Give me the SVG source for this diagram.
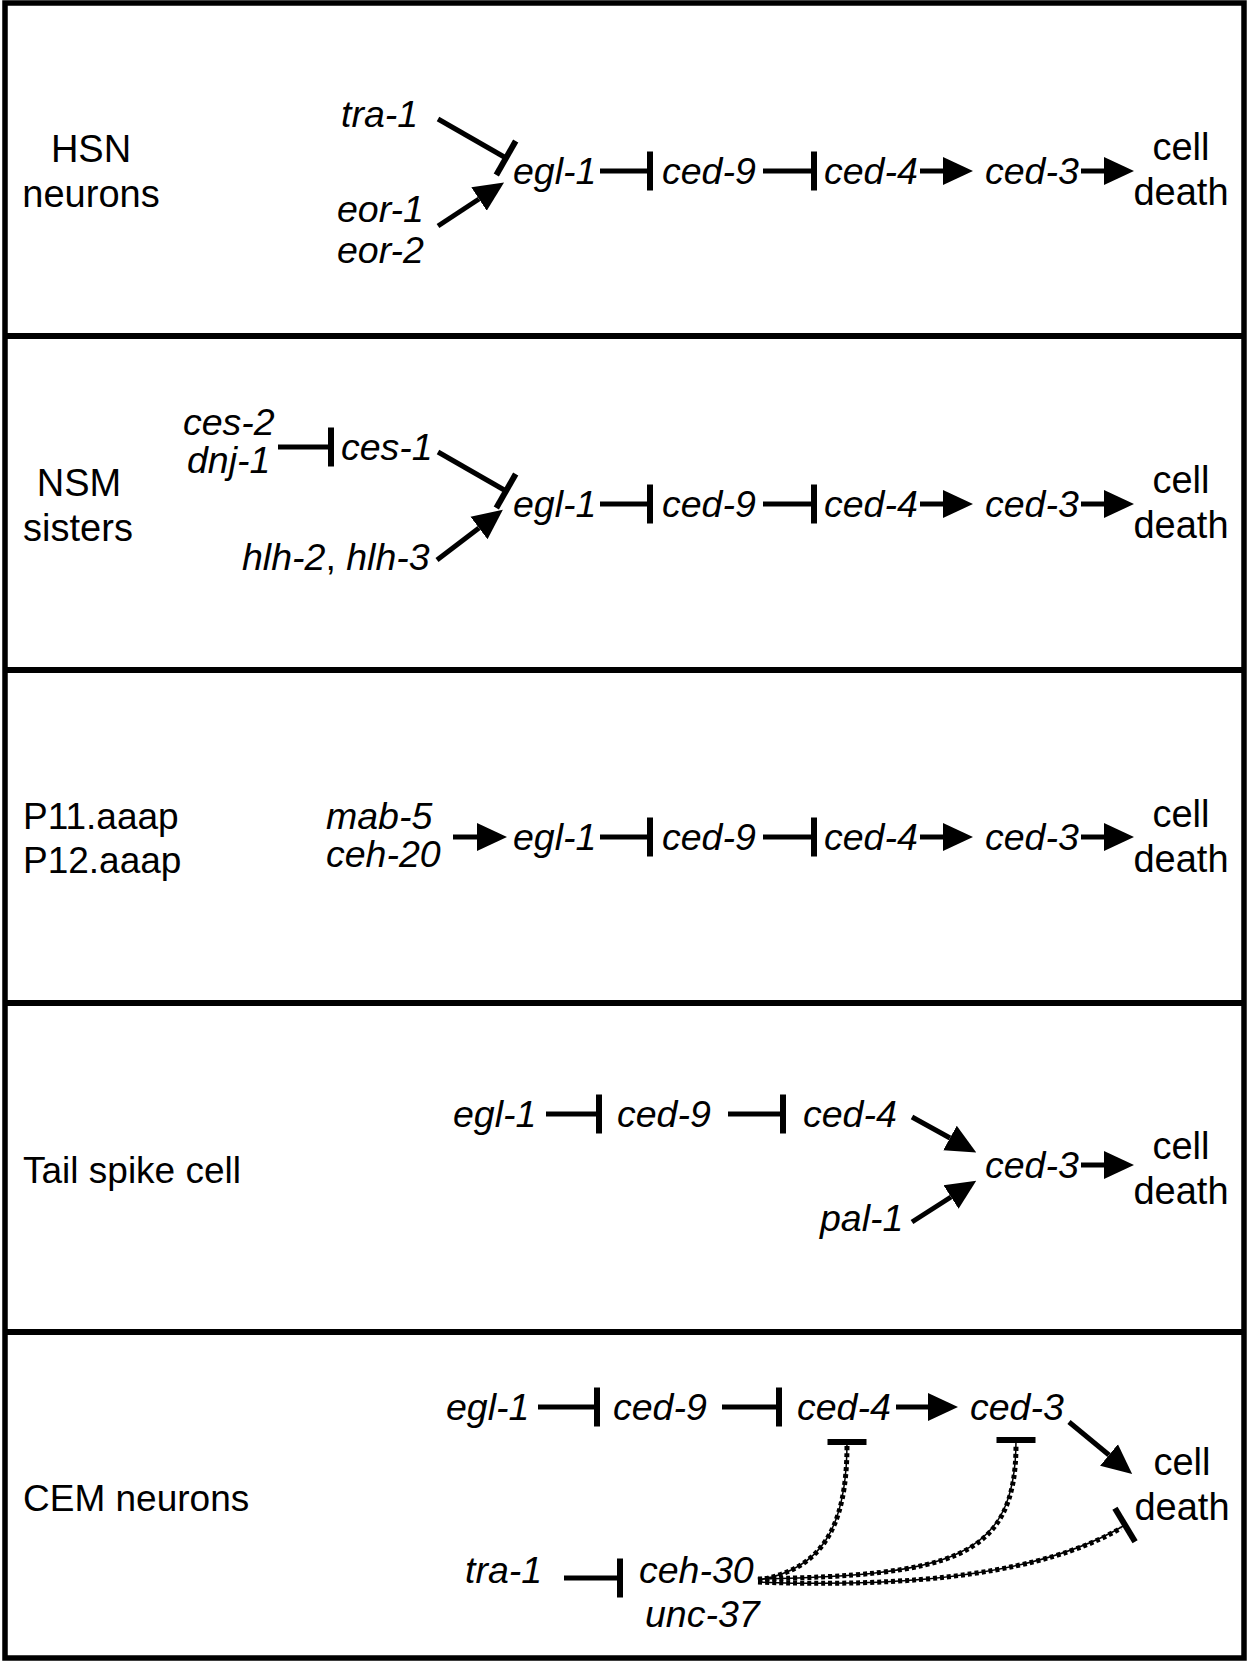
<svg xmlns="http://www.w3.org/2000/svg" width="1249" height="1663" viewBox="0 0 1249 1663">
<style>
text{font-family:"Liberation Sans",Arial,sans-serif;font-size:37px;fill:#000}
.g{font-style:italic;font-size:37.5px}
.m{text-anchor:middle;font-size:38px}
.ln{fill:none;stroke:#000;stroke-width:5}
.act{marker-end:url(#arr)}
.inh{marker-end:url(#bar)}
.dt{fill:none;stroke:#000;stroke-width:5;stroke-dasharray:4 3}
.dtc{fill:none;stroke:#000;stroke-width:1.5;marker-end:url(#bar)}
.frame{fill:none;stroke:#000;stroke-width:5.5}
.div{stroke:#000;stroke-width:6}
</style>
<defs>
<marker id="arr" markerUnits="userSpaceOnUse" viewBox="0 -15 30 30" refX="0" refY="0" markerWidth="30" markerHeight="30" orient="auto">
<path d="M0,-14 L30,0 L0,14 Z" fill="#000"/>
</marker>
<marker id="bar" markerUnits="userSpaceOnUse" viewBox="-4 -20 8 40" refX="0" refY="0" markerWidth="8" markerHeight="40" orient="auto">
<rect x="-3" y="-19.5" width="6" height="39" fill="#000"/>
</marker>
</defs>
<rect width="1249" height="1663" fill="#fff"/>
<g id="frame">
<rect class="frame" x="5" y="3" width="1239" height="1655"/>
<line class="div" x1="5" y1="336" x2="1244" y2="336"/>
<line class="div" x1="5" y1="670" x2="1244" y2="670"/>
<line class="div" x1="5" y1="1003" x2="1244" y2="1003"/>
<line class="div" x1="5" y1="1332" x2="1244" y2="1332"/>
</g>

<g id="panel-hsn">
<g id="lbl-hsn"><text class="m" x="91" y="162">HSN</text><text class="m" x="91" y="207">neurons</text></g>
<g id="hsn-tra1"><text class="g" x="341" y="127">tra-1</text></g>
<g id="hsn-eor"><text class="g" x="337" y="222">eor-1</text><text class="g" x="337" y="263">eor-2</text></g>
<g id="hsn-egl1"><text class="g" x="513" y="184">egl-1</text></g>
<g id="hsn-ced9"><text class="g" x="662" y="184">ced-9</text></g>
<g id="hsn-ced4"><text class="g" x="824" y="184">ced-4</text></g>
<g id="hsn-ced3"><text class="g" x="985" y="184">ced-3</text></g>
<g id="hsn-death"><text class="m" x="1181" y="160">cell</text><text class="m" x="1181" y="205">death</text></g>
</g>

<g id="panel-nsm">
<g id="lbl-nsm"><text class="m" x="79" y="496">NSM</text><text class="m" x="78" y="541">sisters</text></g>
<g id="nsm-ces2"><text class="g" x="183" y="435">ces-2</text><text class="g" x="187" y="473">dnj-1</text></g>
<g id="nsm-ces1"><text class="g" x="341" y="460">ces-1</text></g>
<g id="nsm-hlh"><text x="242" y="570"><tspan class="g">hlh-2</tspan><tspan font-size="37.5">, </tspan><tspan class="g">hlh-3</tspan></text></g>
<g id="nsm-egl1"><text class="g" x="513" y="517">egl-1</text></g>
<g id="nsm-ced9"><text class="g" x="662" y="517">ced-9</text></g>
<g id="nsm-ced4"><text class="g" x="824" y="517">ced-4</text></g>
<g id="nsm-ced3"><text class="g" x="985" y="517">ced-3</text></g>
<g id="nsm-death"><text class="m" x="1181" y="493">cell</text><text class="m" x="1181" y="538">death</text></g>
</g>

<g id="panel-p11">
<g id="lbl-p11"><text x="23" y="829">P11.aaap</text><text x="23" y="873">P12.aaap</text></g>
<g id="p11-mab5"><text class="g" x="326" y="829">mab-5</text><text class="g" x="326" y="867">ceh-20</text></g>
<g id="p11-egl1"><text class="g" x="513" y="850">egl-1</text></g>
<g id="p11-ced9"><text class="g" x="662" y="850">ced-9</text></g>
<g id="p11-ced4"><text class="g" x="824" y="850">ced-4</text></g>
<g id="p11-ced3"><text class="g" x="985" y="850">ced-3</text></g>
<g id="p11-death"><text class="m" x="1181" y="827">cell</text><text class="m" x="1181" y="872">death</text></g>
</g>

<g id="panel-tail">
<g id="lbl-tail"><text x="23" y="1183">Tail spike cell</text></g>
<g id="tail-egl1"><text class="g" x="453" y="1127">egl-1</text></g>
<g id="tail-ced9"><text class="g" x="617" y="1127">ced-9</text></g>
<g id="tail-ced4"><text class="g" x="803" y="1127">ced-4</text></g>
<g id="tail-ced3"><text class="g" x="985" y="1178">ced-3</text></g>
<g id="tail-pal1"><text class="g" x="820" y="1231">pal-1</text></g>
<g id="tail-death"><text class="m" x="1181" y="1159">cell</text><text class="m" x="1181" y="1204">death</text></g>
</g>

<g id="panel-cem">
<g id="lbl-cem"><text x="23" y="1511">CEM neurons</text></g>
<g id="cem-egl1"><text class="g" x="446" y="1420">egl-1</text></g>
<g id="cem-ced9"><text class="g" x="613" y="1420">ced-9</text></g>
<g id="cem-ced4"><text class="g" x="797" y="1420">ced-4</text></g>
<g id="cem-ced3"><text class="g" x="970" y="1420">ced-3</text></g>
<g id="cem-death"><text class="m" x="1182" y="1475">cell</text><text class="m" x="1182" y="1520">death</text></g>
<g id="cem-tra1"><text class="g" x="465" y="1583">tra-1</text></g>
<g id="cem-ceh30"><text class="g" x="639" y="1583">ceh-30</text><text class="g" x="645" y="1627">unc-37</text></g>
</g>

<g id="connectors">
<!-- HSN -->
<path class="ln inh" d="M438,119 L506,158"/>
<path class="ln act" d="M438,226 L479,199"/>
<path class="ln inh" d="M600,171 H650"/>
<path class="ln inh" d="M763,171 H814"/>
<path class="ln act" d="M920,171 H943"/>
<path class="ln act" d="M1081,171 H1104"/>
<!-- NSM -->
<path class="ln inh" d="M278,447 H331"/>
<path class="ln inh" d="M438,452 L506,491"/>
<path class="ln act" d="M437,560 L479,528"/>
<path class="ln inh" d="M600,504 H650"/>
<path class="ln inh" d="M763,504 H814"/>
<path class="ln act" d="M920,504 H943"/>
<path class="ln act" d="M1081,504 H1104"/>
<!-- P11 -->
<path class="ln act" d="M453,837 H477"/>
<path class="ln inh" d="M600,837 H650"/>
<path class="ln inh" d="M763,837 H814"/>
<path class="ln act" d="M920,837 H943"/>
<path class="ln act" d="M1081,837 H1104"/>
<!-- Tail -->
<path class="ln inh" d="M546,1114 H599"/>
<path class="ln inh" d="M728,1114 H783"/>
<path class="ln act" d="M912,1117 L950,1138"/>
<path class="ln act" d="M912,1222 L951,1197"/>
<path class="ln act" d="M1081,1165 H1104"/>
<!-- CEM -->
<path class="ln inh" d="M538,1407 H597"/>
<path class="ln inh" d="M722,1407 H779"/>
<path class="ln act" d="M896,1407 H928"/>
<path class="ln act" d="M1069,1422 L1109,1455"/>
<path class="ln inh" d="M564,1578 H620"/>
<path class="dt" d="M758,1580 C820,1570 847,1530 847,1445"/>
<path class="dtc" d="M758,1580 C820,1570 847,1530 847,1442"/>
<path class="dt" d="M758,1579 C950,1575 1016,1560 1016,1445"/>
<path class="dtc" d="M758,1579 C950,1575 1016,1560 1016,1440"/>
<path class="dt" d="M758,1582 C960,1590 1067,1560 1121,1528"/>
<path class="dtc" d="M758,1582 C960,1590 1067,1560 1125,1525"/>
</g>
</svg>
